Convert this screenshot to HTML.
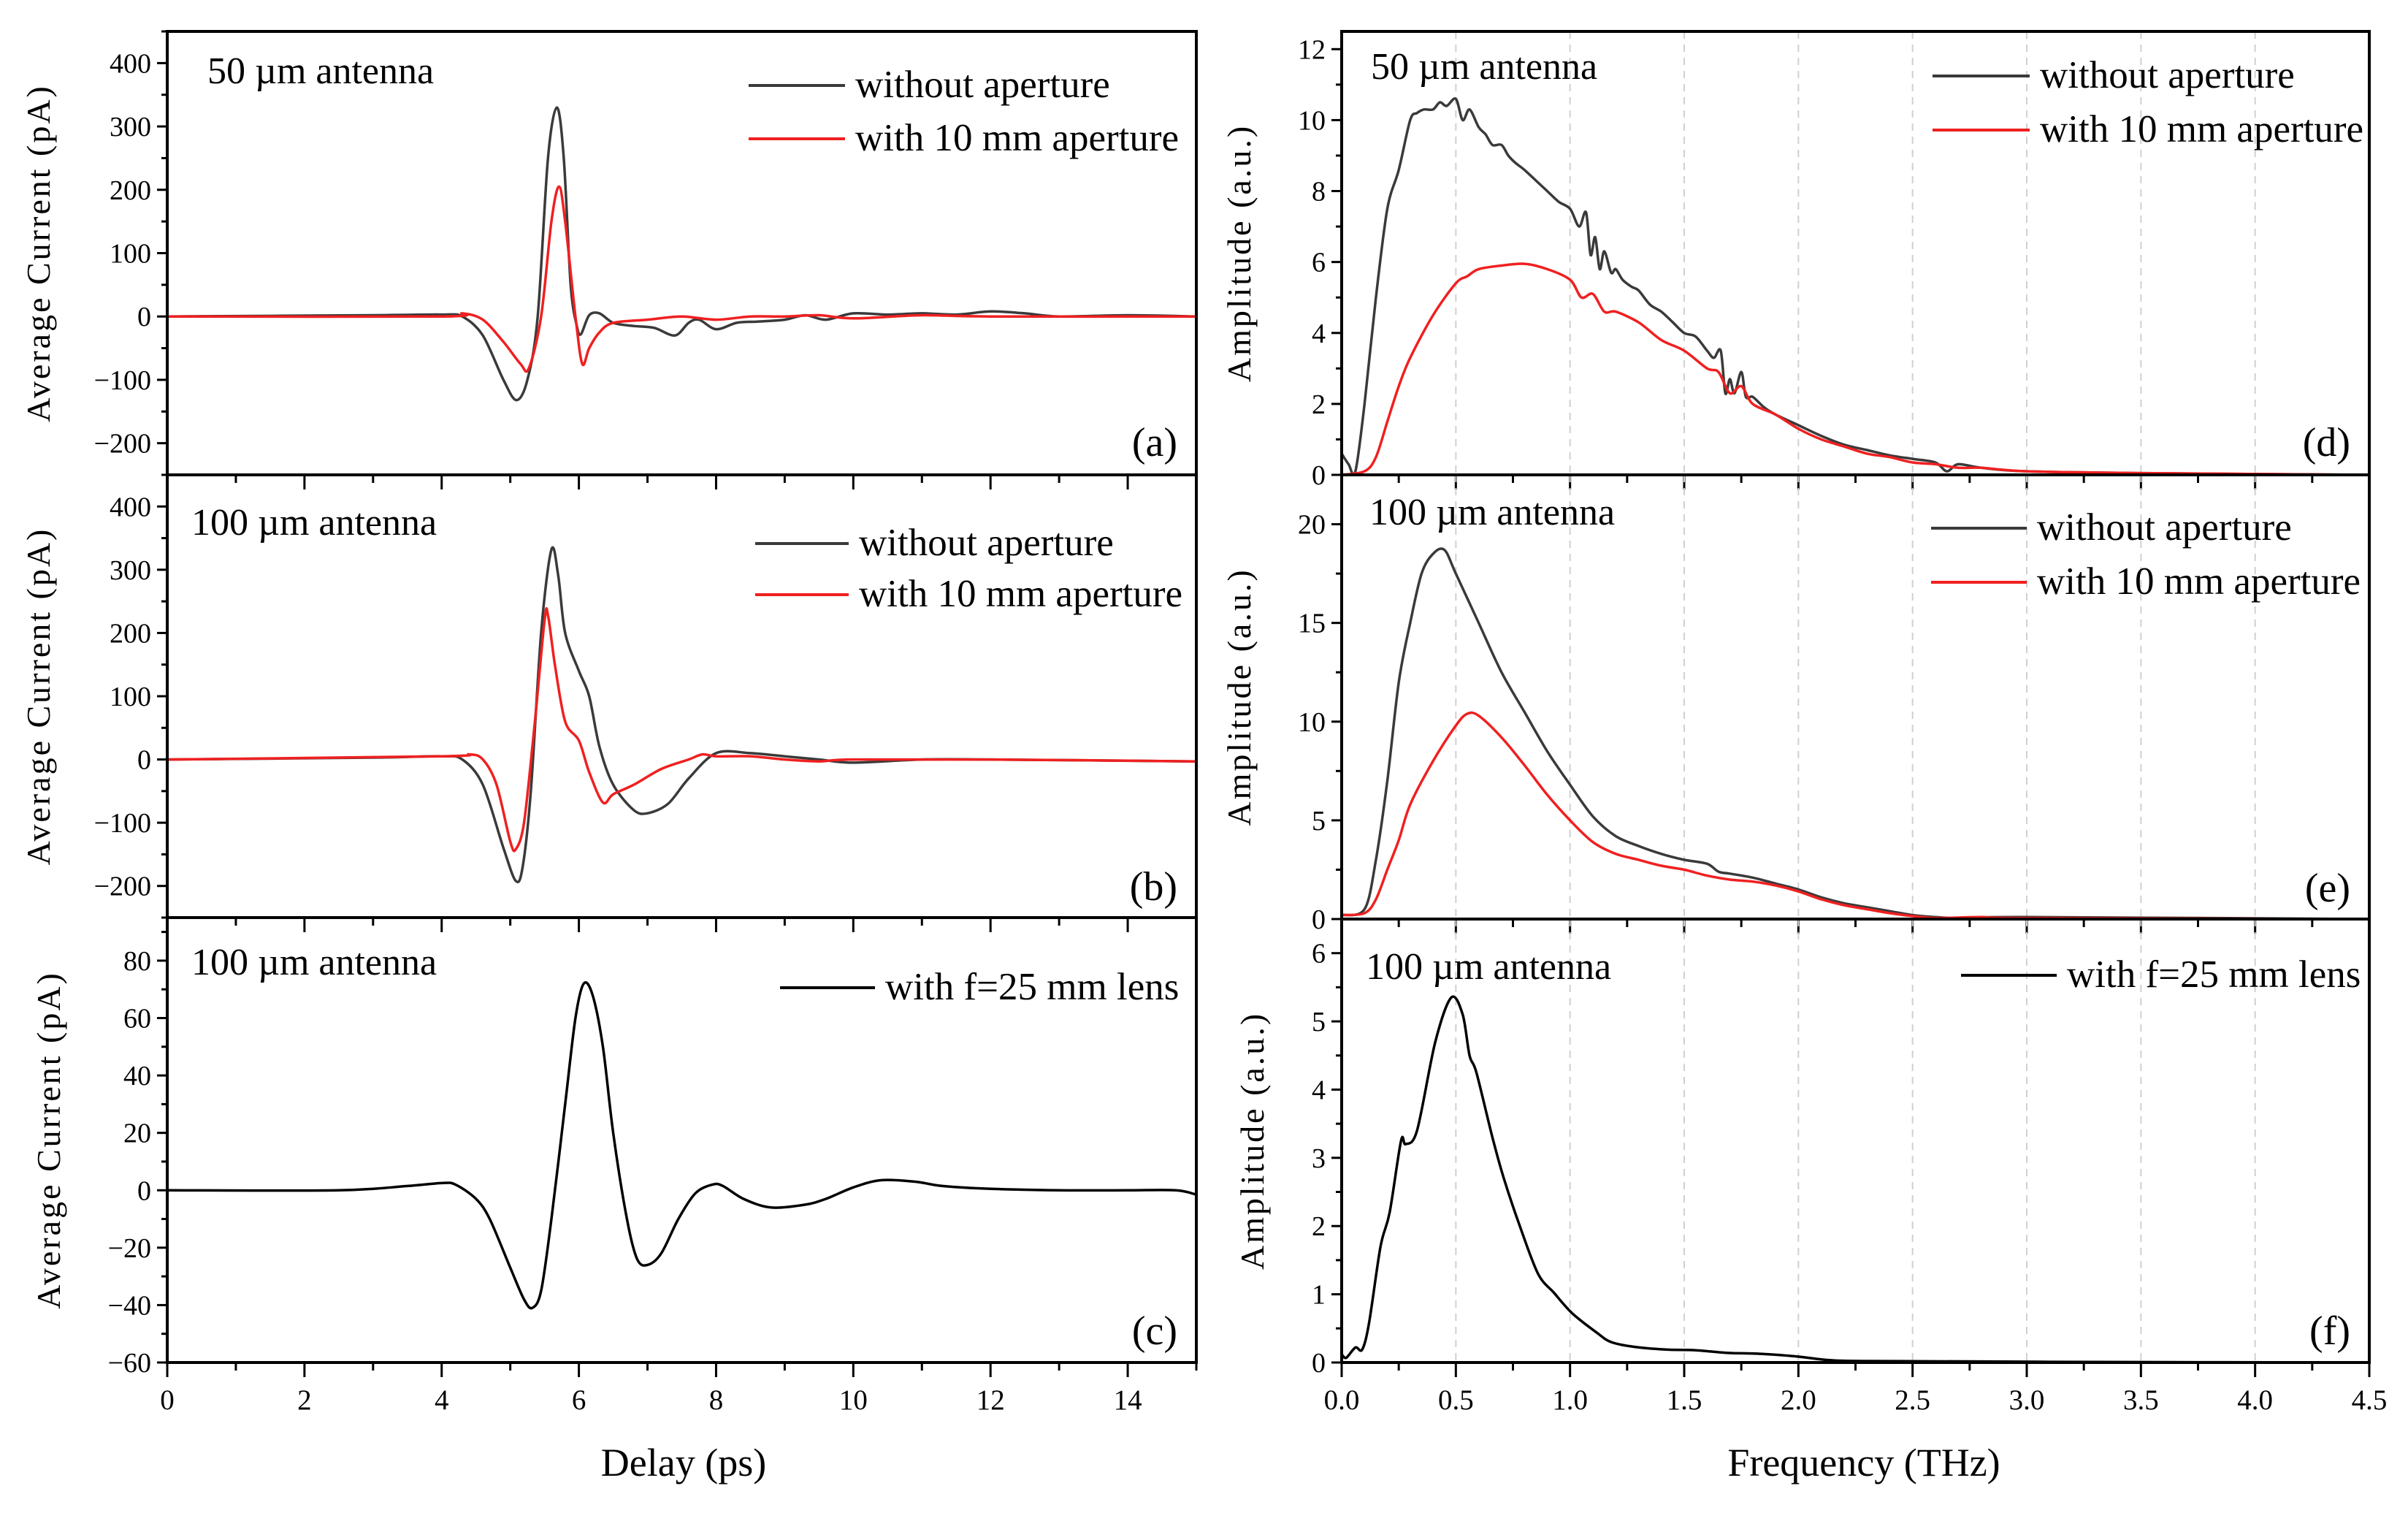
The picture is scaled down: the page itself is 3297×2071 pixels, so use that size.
<!DOCTYPE html>
<html><head><meta charset="utf-8"><style>
html,body{margin:0;padding:0;background:#fff;}
svg{display:block;font-family:"Liberation Serif",serif;}
</style></head><body>
<svg id="fig" width="3297" height="2071" viewBox="0 0 3297 2071" xmlns="http://www.w3.org/2000/svg"></svg>
<script>
// ---- data ----
const aX_black = [0,3,4,4.3,4.6,4.9,5.09,5.25,5.4,5.55,5.68,5.78,5.88,5.97,6.03,6.15,6.3,6.5,6.8,7.1,7.4,7.6,7.75,8.0,8.3,8.6,9.0,9.3,9.6,10,10.5,11,11.5,12,12.5,13,14,15];
const aY_black = [0,2,3,0,-30,-100,-132,-100,0,250,330,250,50,-15,-28,2,5,-10,-15,-18,-30,-10,-5,-20,-10,-8,-5,2,-5,5,3,5,3,8,5,0,2,0];
const aX_red = [0,4,4.3,4.6,4.9,5.15,5.27,5.45,5.6,5.71,5.8,5.95,6.05,6.15,6.3,6.5,7,7.5,8,8.5,9,9.5,10,11,12,15];
const aY_red = [0,0,5,-5,-40,-75,-82,0,150,205,150,0,-75,-50,-25,-10,-5,0,-5,0,0,2,-3,2,0,0];
const bX_black = [0,3,4,4.3,4.6,4.9,5.08,5.18,5.3,5.45,5.6,5.7,5.8,6.0,6.15,6.3,6.5,6.8,7.0,7.3,7.6,8,8.5,9,9.5,10,11,12,15];
const bY_black = [0,3,5,0,-40,-140,-192,-170,-50,200,332,290,200,140,100,20,-40,-80,-85,-70,-30,10,10,5,0,-5,0,0,-3];
const bX_red = [0,4,4.4,4.6,4.8,5.0,5.08,5.2,5.35,5.5,5.55,5.65,5.8,6.0,6.15,6.35,6.5,6.8,7.2,7.6,7.8,8,8.5,9,9.5,10,12,15];
const bY_red = [0,5,8,0,-40,-130,-142,-100,50,220,228,150,60,30,-20,-68,-55,-40,-15,0,8,5,5,0,-3,0,0,-3];
const cX = [0,2.5,3.5,4,4.2,4.5,4.7,5.0,5.2,5.32,5.45,5.6,5.8,5.95,6.07,6.2,6.35,6.5,6.7,6.85,7.0,7.2,7.45,7.7,7.95,8.1,8.4,8.8,9.3,9.6,10,10.4,10.9,11.3,12,13,14,14.7,15];
const cY = [0,0,1.5,2.5,2,-3,-10,-27,-38,-41,-35,-10,30,60,72,68,50,20,-10,-24,-26,-22,-10,-1,2,1.5,-3,-6,-5,-3,1,3.5,3,1.5,0.5,0,0,0,-1.5];
const dX_black = [0,0.03,0.06,0.1,0.15,0.2,0.25,0.3,0.33,0.36,0.4,0.43,0.46,0.5,0.53,0.56,0.6,0.63,0.66,0.7,0.73,0.76,0.8,0.85,0.9,0.95,1.0,1.04,1.07,1.09,1.11,1.13,1.15,1.18,1.2,1.23,1.27,1.3,1.35,1.4,1.45,1.5,1.55,1.6,1.63,1.66,1.68,1.7,1.72,1.75,1.77,1.8,1.85,1.9,2.0,2.1,2.2,2.3,2.4,2.5,2.6,2.65,2.7,2.8,3.0,3.5,4.5];
const dY_black = [0.6,0.3,0.1,2,5,7.5,8.6,10,10.2,10.3,10.3,10.5,10.4,10.6,10.0,10.3,9.8,9.6,9.3,9.3,9.0,8.8,8.6,8.3,8.0,7.7,7.5,7.0,7.4,6.2,6.7,5.8,6.3,5.7,5.8,5.5,5.3,5.2,4.8,4.6,4.3,4.0,3.9,3.5,3.3,3.5,2.3,2.7,2.3,2.9,2.2,2.2,1.9,1.7,1.4,1.1,0.85,0.7,0.55,0.45,0.35,0.1,0.3,0.2,0.1,0.05,0];
const dX_red = [0,0.1,0.15,0.2,0.25,0.3,0.4,0.5,0.55,0.6,0.7,0.8,0.9,1.0,1.05,1.1,1.15,1.2,1.3,1.4,1.5,1.6,1.65,1.7,1.75,1.8,1.9,2.0,2.1,2.2,2.3,2.4,2.5,2.6,2.7,2.8,3.0,3.5,4.5];
const dY_red = [0,0.1,0.5,1.5,2.5,3.3,4.5,5.4,5.6,5.8,5.9,5.95,5.8,5.5,5.0,5.1,4.6,4.6,4.3,3.8,3.5,3.0,2.9,2.3,2.5,2.0,1.7,1.3,1.0,0.8,0.6,0.5,0.35,0.3,0.2,0.2,0.1,0.05,0];
const eX_black = [0,0.1,0.15,0.2,0.25,0.3,0.35,0.4,0.45,0.5,0.6,0.7,0.8,0.9,1.0,1.1,1.2,1.3,1.4,1.5,1.6,1.65,1.7,1.8,1.9,2.0,2.1,2.2,2.3,2.4,2.5,2.6,2.7,3,4.5];
const eY_black = [0.2,0.5,3,7,12,15,17.5,18.5,18.7,17.5,15,12.5,10.5,8.5,6.8,5.2,4.2,3.7,3.3,3.0,2.8,2.4,2.3,2.1,1.8,1.5,1.1,0.8,0.6,0.4,0.2,0.1,0.05,0.1,0];
const eX_red = [0,0.1,0.15,0.2,0.25,0.3,0.4,0.5,0.55,0.6,0.7,0.8,0.9,1.0,1.1,1.2,1.3,1.4,1.5,1.6,1.7,1.8,1.9,2.0,2.1,2.2,2.3,2.4,2.5,2.6,2.8,3.0,4.5];
const eY_red = [0.2,0.3,1,2.5,4,5.8,8,9.8,10.4,10.3,9.2,7.8,6.3,5.0,3.9,3.3,3.0,2.7,2.5,2.2,2.0,1.9,1.7,1.4,1.0,0.7,0.5,0.3,0.15,0.05,0.1,0.05,0];
const fX = [0,0.02,0.06,0.09,0.12,0.17,0.21,0.26,0.28,0.33,0.41,0.48,0.53,0.56,0.59,0.66,0.71,0.78,0.86,0.93,1.01,1.12,1.18,1.28,1.42,1.55,1.69,1.82,1.99,2.16,2.43,3.1,4.5];
const fY = [0.12,0.07,0.22,0.19,0.58,1.7,2.2,3.25,3.2,3.4,4.7,5.35,5.1,4.5,4.25,3.3,2.7,2.0,1.3,1.02,0.72,0.43,0.3,0.23,0.19,0.18,0.14,0.13,0.09,0.03,0.02,0.01,0];
const delayTicks = [0,2,4,6,8,10,12,14];
const freqTicks = [0,0.5,1,1.5,2,2.5,3,3.5,4,4.5];
const abTicks = [-200,-100,0,100,200,300,400];
const cTicks = [-60,-40,-20,0,20,40,60,80];
const dTicks = [0,2,4,6,8,10,12];
const eTicks = [0,5,10,15,20];
const fTicks = [0,1,2,3,4,5,6];

const NS="http://www.w3.org/2000/svg";
const svg=document.getElementById('fig');
function mk(tag,attrs,parent){const e=document.createElementNS(NS,tag);for(const k in attrs)e.setAttribute(k,attrs[k]);(parent||svg).appendChild(e);return e;}
function smooth(pts){
  let d='M'+pts[0][0].toFixed(1)+','+pts[0][1].toFixed(1);
  for(let i=0;i<pts.length-1;i++){
    const p0=pts[Math.max(0,i-1)],p1=pts[i],p2=pts[i+1],p3=pts[Math.min(pts.length-1,i+2)];
    const t=0.16;
    const c1x=p1[0]+(p2[0]-p0[0])*t,c1y=p1[1]+(p2[1]-p0[1])*t;
    const c2x=p2[0]-(p3[0]-p1[0])*t,c2y=p2[1]-(p3[1]-p1[1])*t;
    d+='C'+c1x.toFixed(1)+','+c1y.toFixed(1)+' '+c2x.toFixed(1)+','+c2y.toFixed(1)+' '+p2[0].toFixed(1)+','+p2[1].toFixed(1);
  }
  return d;
}

function panel(o){
  const g=mk('g',{});
  
  
  const sx=v=>o.x0+(v-o.xmin)/(o.xmax-o.xmin)*(o.x1-o.x0);
  const sy=v=>o.y1-(v-o.ymin)/(o.ymax-o.ymin)*(o.y1-o.y0);
  if(o.grid){o.xt.forEach(t=>{if(t>o.xmin&&t<o.xmax){const l=mk('line',{x1:sx(t),x2:sx(t),y1:o.y0,y2:o.y1,stroke:'#d0d0d0','stroke-width':2,'stroke-dasharray':'10,8'},g);
    
    }});}
  o.series.forEach(s=>{const pts=s.x.map((v,i)=>[sx(v),sy(s.y[i])]);
    const p=mk('path',{d:smooth(pts),fill:'none',stroke:s.c,'stroke-width':3.5,'stroke-linejoin':'round'},g);
    
    });
  const fr=mk('rect',{x:o.x0,y:o.y0,width:o.x1-o.x0,height:o.y1-o.y0,fill:'none',stroke:'#000','stroke-width':4},g);
  
  
  const xs=(o.xt[1]-o.xt[0])/2;
  for(let v=o.xmin;v<=o.xmax+1e-9;v+=xs){const maj=Math.abs(((v-o.xt[0])/(xs*2))%1)<1e-6;
    mk('line',{x1:sx(v),x2:sx(v),y1:o.y1,y2:o.y1+(maj?20:11),stroke:'#000','stroke-width':3},g);}
  if(o.xlabels){o.xt.forEach(t=>{const tx=mk('text',{x:sx(t),y:o.y1+64,'font-size':39,'text-anchor':'middle'},g);tx.textContent=o.fmt?t.toFixed(1):t;
    
    });}
  const ys=(o.yt[1]-o.yt[0])/2;
  let start=Math.ceil(o.ymin/ys)*ys;
  for(let v=start;v<=o.ymax+1e-9;v+=ys){const maj=Math.abs(Math.round(v/(ys*2))*ys*2-v)<1e-6;
    mk('line',{x1:o.x0,x2:o.x0-(maj?14:8),y1:sy(v),y2:sy(v),stroke:'#000','stroke-width':3},g);}
  o.yt.forEach(t=>{const tx=mk('text',{x:o.x0-22,y:sy(t)+13,'font-size':38,'text-anchor':'end'},g);tx.textContent=t<0?'\u2212'+(-t):t;
    
    });
  const yt=mk('text',{transform:`translate(${o.ytx},${(o.y0+o.y1)/2}) rotate(-90)`,'font-size':46,'text-anchor':'middle','letter-spacing':'3'},g);
  yt.textContent=o.ytitle;
  
  
  const an=mk('text',{x:o.ax,y:o.ay,'font-size':52},g);an.textContent=o.ann;
  
  
  o.leg.forEach(l=>{const ln=mk('line',{x1:l.x1,x2:l.x2,y1:l.y,y2:l.y,stroke:l.c,'stroke-width':4},g);
    
    
    const t=mk('text',{x:l.x2+14,y:l.y+16,'font-size':53},g);t.textContent=l.t;
    
    });
  const pl=mk('text',{x:o.x1-26,y:o.ply,'font-size':56,'text-anchor':'end'},g);pl.textContent=o.pl;
  
  
}
const BK='#3a3a3a', RD='#f02020';
const LX0=229,LX1=1638,RX0=1837,RX1=3244;
panel({name:'panel-a',x0:LX0,x1:LX1,y0:43,y1:650,xmin:0,xmax:15,ymin:-250,ymax:450,xt:delayTicks,yt:abTicks,ytx:68,ytitle:'Average Current (pA)',
 series:[{x:aX_black,y:aY_black,c:BK,name:'series-a-without-aperture'},{x:aX_red,y:aY_red,c:RD,name:'series-a-with-aperture'}],
 ax:284,ay:114,ann:'50 µm antenna',leg:[{x1:1025,x2:1157,y:117,c:BK,t:'without aperture'},{x1:1025,x2:1157,y:190,c:RD,t:'with 10 mm aperture'}],pl:'(a)',ply:624});
panel({name:'panel-b',x0:LX0,x1:LX1,y0:650,y1:1256,xmin:0,xmax:15,ymin:-250,ymax:450,xt:delayTicks,yt:abTicks,ytx:68,ytitle:'Average Current (pA)',
 series:[{x:bX_black,y:bY_black,c:BK,name:'series-b-without-aperture'},{x:bX_red,y:bY_red,c:RD,name:'series-b-with-aperture'}],
 ax:262,ay:732,ann:'100 µm antenna',leg:[{x1:1034,x2:1162,y:744,c:BK,t:'without aperture'},{x1:1034,x2:1162,y:814,c:RD,t:'with 10 mm aperture'}],pl:'(b)',ply:1232});
panel({name:'panel-c',x0:LX0,x1:LX1,y0:1256,y1:1865,xmin:0,xmax:15,ymin:-60,ymax:95,xt:delayTicks,yt:cTicks,ytx:82,ytitle:'Average Current (pA)',xlabels:true,
 series:[{x:cX,y:cY,c:'#000',name:'series-c-lens'}],
 ax:262,ay:1334,ann:'100 µm antenna',leg:[{x1:1068,x2:1198,y:1352,c:'#000',t:'with f=25 mm lens'}],pl:'(c)',ply:1840});
panel({name:'panel-d',x0:RX0,x1:RX1,y0:43,y1:650,xmin:0,xmax:4.5,ymin:0,ymax:12.5,xt:freqTicks,yt:dTicks,ytx:1712,ytitle:'Amplitude (a.u.)',grid:true,
 series:[{x:dX_black,y:dY_black,c:BK,name:'series-d-without-aperture'},{x:dX_red,y:dY_red,c:RD,name:'series-d-with-aperture'}],
 ax:1877,ay:108,ann:'50 µm antenna',leg:[{x1:2646,x2:2779,y:104,c:BK,t:'without aperture'},{x1:2646,x2:2779,y:178,c:RD,t:'with 10 mm aperture'}],pl:'(d)',ply:624});
panel({name:'panel-e',x0:RX0,x1:RX1,y0:650,y1:1258,xmin:0,xmax:4.5,ymin:0,ymax:22.5,xt:freqTicks,yt:eTicks,ytx:1712,ytitle:'Amplitude (a.u.)',grid:true,
 series:[{x:eX_black,y:eY_black,c:BK,name:'series-e-without-aperture'},{x:eX_red,y:eY_red,c:RD,name:'series-e-with-aperture'}],
 ax:1875,ay:718,ann:'100 µm antenna',leg:[{x1:2644,x2:2775,y:723,c:BK,t:'without aperture'},{x1:2644,x2:2775,y:797,c:RD,t:'with 10 mm aperture'}],pl:'(e)',ply:1234});
panel({name:'panel-f',x0:RX0,x1:RX1,y0:1258,y1:1865,xmin:0,xmax:4.5,ymin:0,ymax:6.5,xt:freqTicks,yt:fTicks,ytx:1730,ytitle:'Amplitude (a.u.)',grid:true,xlabels:true,fmt:true,
 series:[{x:fX,y:fY,c:'#000',name:'series-f-lens'}],
 ax:1870,ay:1340,ann:'100 µm antenna',leg:[{x1:2685,x2:2816,y:1335,c:'#000',t:'with f=25 mm lens'}],pl:'(f)',ply:1840});
const xl1=mk('text',{x:936,y:2020,'font-size':54,'text-anchor':'middle'});xl1.textContent='Delay (ps)';


const xl2=mk('text',{x:2552,y:2020,'font-size':54,'text-anchor':'middle'});xl2.textContent='Frequency (THz)';


</script>
</body></html>
